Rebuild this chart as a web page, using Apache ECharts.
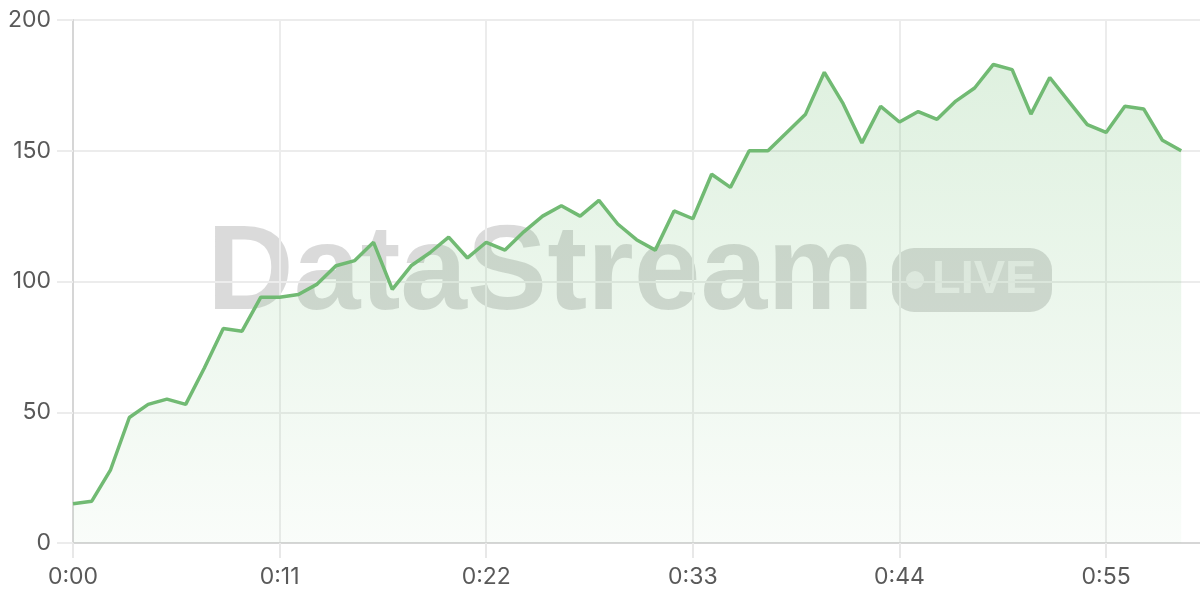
<!DOCTYPE html>
<html>
<head>
<meta charset="utf-8">
<script src="https://cdn.jsdelivr.net/npm/echarts@6/dist/echarts.min.js"></script>
<style>
html,body{margin:0;padding:0;background:#fff;}
#chart{width:1200px;height:600px;}
</style>
</head>
<body>
<div id="chart"></div>
<script>
const categories = ["0:00","0:01","0:02","0:03","0:04","0:05","0:06","0:07","0:08","0:09",
"0:10","0:11","0:12","0:13","0:14","0:15","0:16","0:17","0:18","0:19",
"0:20","0:21","0:22","0:23","0:24","0:25","0:26","0:27","0:28","0:29",
"0:30","0:31","0:32","0:33","0:34","0:35","0:36","0:37","0:38","0:39",
"0:40","0:41","0:42","0:43","0:44","0:45","0:46","0:47","0:48","0:49",
"0:50","0:51","0:52","0:53","0:54","0:55","0:56","0:57","0:58","0:59","1:00"];
const values = [15,16,28,48,53,55,53,67,82,81,
94,94,95,99,106,108,115,97,106,111,
117,109,115,112,119,125,129,125,131,122,
116,112,127,124,141,136,150,150,157,164,
180,168,153,167,161,165,162,169,174,183,
181,164,178,169,160,157,167,166,154,150];
const yMin = 0, yMax = 200, yStep = 50;
const watermarkText = "DataStream";
const badgeText = "LIVE";

const chart = echarts.init(document.getElementById('chart'), null, {renderer:'canvas'});
const labelFont = 'Inter, "DejaVu Sans", sans-serif';
chart.setOption({
  animation: false,
  backgroundColor: '#ffffff',
  grid: {left: 73, right: 0, top: 20, bottom: 57, containLabel: false},
  graphic: [
    {type:'text', z: 0, left: 207, top: 216, style:{text: watermarkText, font:'bold 120px "Liberation Sans", Arial, sans-serif', fill:'rgba(0,0,0,0.145)'}},
    {type:'rect', z: 0, shape:{x:892, y:248, width:160, height:64, r:22}, style:{fill:'rgba(0,0,0,0.14)'}},
    {type:'circle', z: 0, shape:{cx:915, cy:280, r:9}, style:{fill:'rgba(255,255,255,0.55)'}},
    {type:'text', z: 0, left: 932, top: 257, style:{text: badgeText, font:'bold 47px "Liberation Sans", Arial, sans-serif', fill:'rgba(255,255,255,0.55)'}}
  ],
  xAxis: {
    type: 'category',
    data: categories,
    boundaryGap: false,
    axisLine: {show: true, lineStyle: {color: '#d6d6d6', width: 2}},
    axisTick: {show: true, interval: 10, length: 15, lineStyle: {color: '#e8e8e8', width: 2}},
    axisLabel: {interval: 10, color: '#595959', fontSize: 23, fontFamily: labelFont, margin: 23},
    splitLine: {show: true, interval: 10, lineStyle: {color: '#ececec', width: 2}}
  },
  yAxis: {
    type: 'value',
    min: yMin, max: yMax, interval: yStep,
    axisLine: {show: true, lineStyle: {color: '#d6d6d6', width: 2}},
    axisTick: {show: true, length: 16, lineStyle: {color: '#ececec', width: 2}},
    axisLabel: {color: '#595959', fontSize: 23, fontFamily: labelFont, margin: 22},
    splitLine: {show: true, lineStyle: {color: '#ececec', width: 2}}
  },
  series: [{
    type: 'line',
    data: values,
    z: 2,
    symbol: 'none',
    smooth: false,
    lineStyle: {color: '#71ba73', width: 3.5},
    areaStyle: {
      color: new echarts.graphic.LinearGradient(0, 0, 0, 1, [
        {offset: 0, color: 'rgba(102,187,106,0.30)'},
        {offset: 1, color: 'rgba(102,187,106,0.05)'}
      ])
    }
  }]
});
</script>
</body>
</html>
